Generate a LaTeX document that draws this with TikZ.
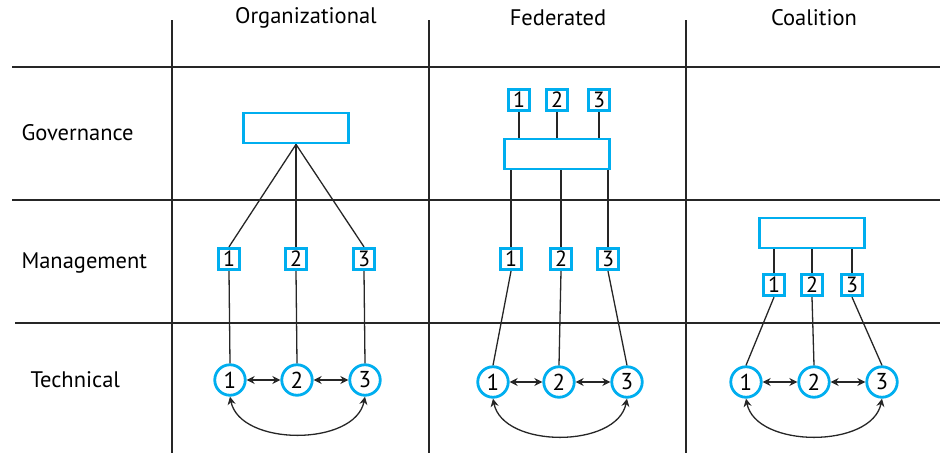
\documentclass[tikz,border=0pt]{standalone}
\usepackage{fontspec}
\setmainfont{PT Sans}
\usetikzlibrary{arrows.meta}
\definecolor{netblue}{RGB}{0,174,239}
\begin{document}
\begin{tikzpicture}[
    x=1pt, y=-1pt,
    font=\fontsize{22.5}{27}\selectfont,
    grid/.style={line width=1.3pt, black!85},
    wire/.style={line width=1.3pt, black!85},
    link/.style={line width=1.3pt, black!85, {Stealth[length=8pt,width=8pt]}-{Stealth[length=8pt,width=8pt]}},
    body/.style={draw=netblue, line width=2.8pt, minimum width=105pt, minimum height=30pt, inner sep=0pt},
    mbox/.style={draw=netblue, line width=2.8pt, minimum size=21.5pt, inner sep=0pt, font=\fontsize{22}{26}\selectfont},
    sys/.style={draw=netblue, line width=2.8pt, circle, minimum size=30.5pt, inner sep=0pt, font=\fontsize{23}{27}\selectfont},
    lab/.style={anchor=west}
  ]
  \useasboundingbox (0,0) rectangle (940,453);
  % table
  \draw[grid] (12,67) -- (940,67);
  \draw[grid] (12,200) -- (940,200);
  \draw[grid] (15,323) -- (940,323);
  \foreach \x in {172,429,686} \draw[grid] (\x,20) -- (\x,453);
  \node (hOrg) at (306,18) {Organizational};
  \node (hFed) at (558,18) {Federated};
  \node (hCoa) at (814,18) {Coalition};
  \node[lab] (rGov) at (18,133) {Governance};
  \node[lab] (rMan) at (18,263) {Management};
  \node[lab] (rTec) at (27,380) {Technical};

  % organizational
  \node[body] (og) at (296,128) {};
  \foreach \i/\x in {1/229,2/296,3/364} {
    \node[mbox] (om\i) at (\x,259) {\i};
    \node[sys] (ot\i) at (\x+1,380) {\i};
    \draw[wire] (og.south) -- (om\i.north);
    \draw[wire] (om\i.south) -- (ot\i.north);
  }
  \draw[link] (ot1) -- (ot2);
  \draw[link] (ot2) -- (ot3);
  \draw[link] (ot1.south) .. controls +(10,50) and +(-10,50) .. (ot3.south);

  % federated
  \node[body] (fb) at (557,154) {};
  \foreach \i/\x/\y/\z in {1/519/511/493,2/557/561/559,3/599/608/627} {
    \node[mbox] (fg\i) at (\x,100) {\i};
    \node[mbox] (fm\i) at (\y,259) {\i};
    \node[sys] (ft\i) at (\z,382) {\i};
    \draw[wire] (fg\i.south) -- (fg\i.south |- fb.north);
    \draw[wire] (fm\i.north |- fb.south) -- (fm\i.north);
    \draw[wire] (fm\i.south) -- (ft\i.north);
  }
  \draw[link] (ft1) -- (ft2);
  \draw[link] (ft2) -- (ft3);
  \draw[link] (ft1.south) .. controls +(10,50) and +(-10,50) .. (ft3.south);

  % coalition
  \node[body] (cb) at (812,233) {};
  \foreach \i/\x/\z in {1/774/746,2/812/814,3/852/882} {
    \node[mbox] (cm\i) at (\x,285) {\i};
    \node[sys] (ct\i) at (\z,382) {\i};
    \draw[wire] (cm\i.north |- cb.south) -- (cm\i.north);
    \draw[wire] (cm\i.south) -- (ct\i.north);
  }
  \draw[link] (ct1) -- (ct2);
  \draw[link] (ct2) -- (ct3);
  \draw[link] (ct1.south) .. controls +(10,50) and +(-10,50) .. (ct3.south);
\end{tikzpicture}
\end{document}
